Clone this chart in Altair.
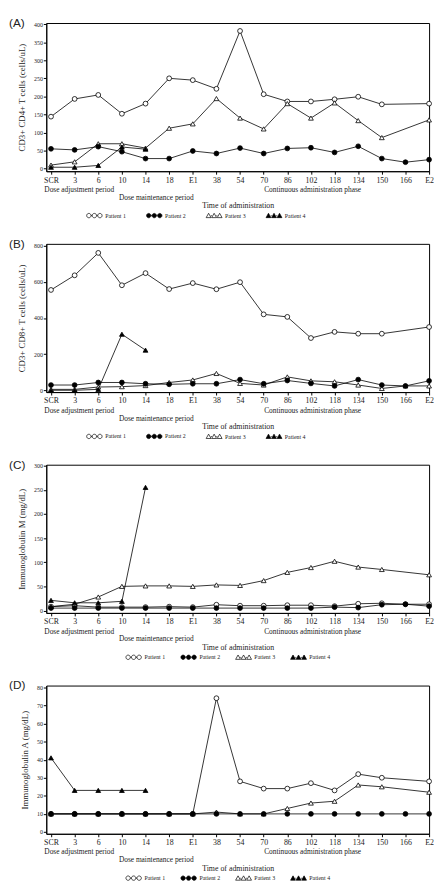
import altair as alt
import pandas as pd

time_labels = ["SCR", "3", "6", "10", "14", "18", "E1", "38", "54", "70",
               "86", "102", "118", "134", "150", "166", "E2"]
patients = ["Patient 1", "Patient 2", "Patient 3", "Patient 4"]
N = None

# (A) CD3+ CD4+ T cells
cd4_p1 = [144, 193, 204, 152, 180, 250, 245, 221, 381, 206, 186, 186, 192, 199, 178, N, 180]
cd4_p2 = [55, 52, 61, 47, 28, 28, 49, 42, 57, 42, 56, 58, 45, 62, 28, 18, 25]
cd4_p3 = [10, 19, 69, 69, 57, 112, 124, 194, 140, 110, 180, 140, 182, 133, 86, N, 135]
cd4_p4 = [4, 4, 9, 60, 54, N, N, N, N, N, N, N, N, N, N, N, N]

# (B) CD3+ CD8+ T cells
cd8_p1 = [555, 636, 760, 581, 648, 560, 593, 559, 598, 420, 406, 289, 323, 313, 313, N, 350]
cd8_p2 = [29, 29, 43, 43, 36, 33, 36, 36, 59, 36, 54, 38, 24, 59, 29, 24, 52]
cd8_p3 = [5, 5, 18, 20, 26, 43, 57, 93, 38, 29, 74, 52, 47, 29, 10, 24, 24]
cd8_p4 = [0, 0, 5, 310, 222, N, N, N, N, N, N, N, N, N, N, N, N]

# (C) Immunoglobulin M
igm_p1 = [8, 10, 7, 7, 7, 8, 7, 12, 10, 10, 11, 11, 9, 14, 15, 13, 13]
igm_p2 = [5, 5, 5, 5, 5, 5, 5, 5, 5, 5, 5, 5, 7, 6, 12, 13, 9]
igm_p3 = [8, 13, 28, 50, 51, 51, 50, 53, 52, 62, 79, 89, 102, 90, 85, N, 74]
igm_p4 = [21, 16, 16, 19, 255, N, N, N, N, N, N, N, N, N, N, N, N]

# (D) Immunoglobulin A
iga_p1 = [10, 10, 10, 10, 10, 10, 10, 74, 28, 24, 24, 27, 23, 32, 30, N, 28]
iga_p2 = [10, 10, 10, 10, 10, 10, 10, 10, 10, 10, 10, 10, 10, 10, 10, 10, 10]
iga_p3 = [10, 10, 10, 10, 10, 10, 10, 11, 10, 10, 13, 16, 17, 26, 25, N, 22]
iga_p4 = [41, 23, 23, 23, 23, N, N, N, N, N, N, N, N, N, N, N, N]

period_labels = ["Dose adjustment period", "Dose maintenance period",
                 "Continuous administration phase"]
x_title = "Time of administration"

SERIF = "Liberation Serif"
INK = "#222222"
W, H = 390, 151
draw_rank = {"Patient 1": 0, "Patient 3": 1, "Patient 4": 2, "Patient 2": 3}

label_expr = "[" + ",".join("'%s'" % s for s in time_labels) + "][datum.value]"


def circle_path(cx, r=0.95):
    return "M%.2f,0 a%.2f,%.2f 0 1,0 %.2f,0 a%.2f,%.2f 0 1,0 %.2f,0 " % (
        cx - r, r, r, 2 * r, r, r, -2 * r)


def tri_path(cx, r=1.05):
    return "M%.2f,%.2f L%.2f,%.2f L%.2f,%.2f Z " % (
        cx, -r, cx + r, 0.8 * r, cx - r, 0.8 * r)


def triple(kind):
    f = circle_path if kind == "c" else tri_path
    s = "".join(f(cx) for cx in (-2.4, 0.0, 2.4))
    s += "M-1.45,0 L-0.95,0 M0.95,0 L1.45,0"
    return s


legend_shapes = [triple("c"), triple("c"), triple("t"), triple("t")]
fills = ["white", "black", "white", "black"]


def panel(letter, ytitle, series, ydomain, yticks, leg_x, leg_gap):
    rows = []
    for p, vals in zip(patients, series):
        for i, v in enumerate(vals):
            if v is not None:
                rows.append({"t": i, "v": v, "patient": p, "rank": draw_rank[p]})
    df = pd.DataFrame(rows)

    base = alt.Chart(df).encode(
        x=alt.X("t:Q",
                scale=alt.Scale(domain=[-0.2, 16], nice=False, zero=False),
                axis=alt.Axis(values=list(range(17)), labelExpr=label_expr,
                              title=x_title, titlePadding=18, labelPadding=2,
                              tickSize=3, labelFontSize=8, titleFontSize=8,
                              labelFlush=False)),
        y=alt.Y("v:Q",
                scale=alt.Scale(domain=ydomain, nice=False, zero=False),
                axis=alt.Axis(values=yticks, title=ytitle, tickSize=3,
                              labelPadding=1, labelFontSize=6, titleFontSize=9,
                              titlePadding=7)),
    )
    lines = base.mark_line(color="black", strokeWidth=0.8).encode(
        detail="patient:N", order="t:Q")
    pts = base.mark_point(stroke="black", strokeWidth=0.8, size=24, opacity=1).encode(
        shape=alt.Shape("patient:N",
                        scale=alt.Scale(domain=patients,
                                        range=["circle", "circle", "triangle-up", "triangle-up"]),
                        legend=None),
        fill=alt.Fill("patient:N", scale=alt.Scale(domain=patients, range=fills),
                      legend=None),
        order=alt.Order("rank:Q"),
    )

    leg = alt.Legend(title=None, orient="none", direction="horizontal",
                     legendX=leg_x, legendY=H + 42, labelFontSize=6, labelFont=SERIF,
                     symbolSize=22, symbolStrokeWidth=0.7, columnPadding=leg_gap,
                     labelOffset=8, padding=0, symbolOpacity=1)
    key = alt.Chart(df).transform_filter("false").mark_point(
        strokeWidth=0.7, opacity=1).encode(
        shape=alt.Shape("patient:N", scale=alt.Scale(domain=patients, range=legend_shapes),
                        legend=leg),
        fill=alt.Fill("patient:N", scale=alt.Scale(domain=patients, range=fills), legend=leg),
        stroke=alt.Stroke("patient:N",
                          scale=alt.Scale(domain=patients,
                                          range=["black", "black", "black", "black"]),
                          legend=leg),
    )

    def note(text, xpx, ypx, size=7.5, font=SERIF):
        return alt.Chart(pd.DataFrame({"s": [text]})).mark_text(
            align="left", baseline="middle", font=font, fontSize=size, color=INK
        ).encode(text="s:N", x=alt.value(xpx), y=alt.value(ypx))

    tag = note(letter, -38, 0, size=12, font="Liberation Sans")
    n1 = note(period_labels[0], -2, H + 19)
    n2 = note(period_labels[1], 74, H + 27)
    n3 = note(period_labels[2], 222, H + 19)

    return alt.layer(lines, pts, key, n1, n2, n3, tag).resolve_scale(
        shape="independent", fill="independent", stroke="independent"
    ).properties(width=W, height=H)


pA = panel("(A)", "CD3+ CD4+ T cells (cells/uL)", [cd4_p1, cd4_p2, cd4_p3, cd4_p4],
           [-7, 403], [0, 50, 100, 150, 200, 250, 300, 350, 400], 46, 18)
pB = panel("(B)", "CD3+ CD8+ T cells (cells/uL)", [cd8_p1, cd8_p2, cd8_p3, cd8_p4],
           [-10, 810], [0, 200, 400, 600, 800], 46, 18)
pC = panel("(C)", "Immunoglobulin M (mg/dL)", [igm_p1, igm_p2, igm_p3, igm_p4],
           [-5, 302], [0, 50, 100, 150, 200, 250, 300], 86, 13)
pD = panel("(D)", "Immunoglobulin A (mg/dL)", [iga_p1, iga_p2, iga_p3, iga_p4],
           [-1, 81], [0, 10, 20, 30, 40, 50, 60, 70, 80], 86, 13)

chart = alt.vconcat(pA, pB, pC, pD, spacing=17).resolve_scale(
    x="independent", y="independent", shape="independent", fill="independent",
    stroke="independent"
).resolve_legend(shape="independent", fill="independent", stroke="independent").properties(
    padding=0
).configure_view(
    stroke="black", strokeWidth=1
).configure_axis(
    grid=False, domainColor="black", tickColor="black", labelColor=INK,
    titleColor=INK, labelFont=SERIF, titleFont=SERIF, titleFontWeight="normal"
).configure_legend(labelColor=INK)

chart.save("out.html", embed_options={"renderer": "svg", "actions": False})
